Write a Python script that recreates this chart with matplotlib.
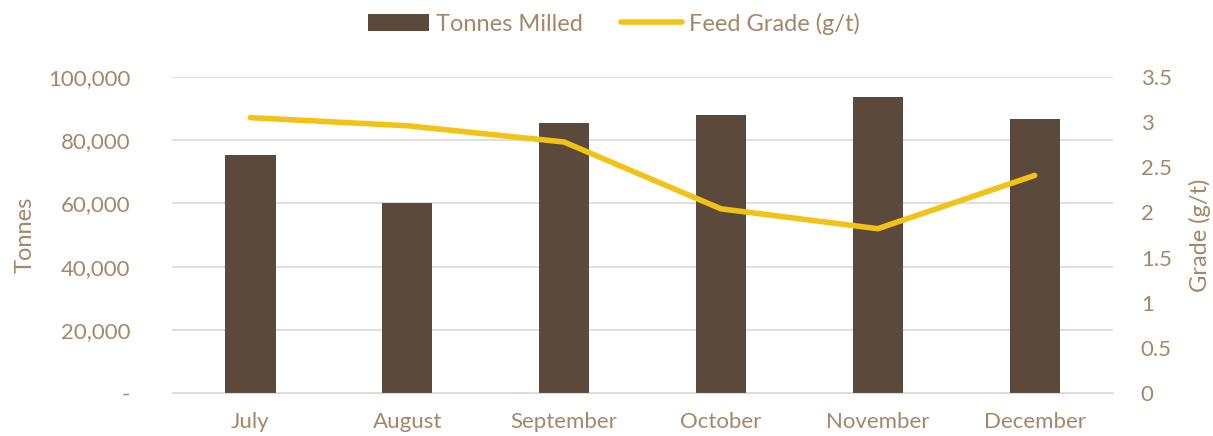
import matplotlib
matplotlib.use("Agg")
import matplotlib.pyplot as plt
from matplotlib.ticker import FuncFormatter

# данные
months = ["July", "August", "September", "October", "November", "December"]
tonnes = [75300, 60000, 85400, 88000, 93700, 86700]
grade = [3.05, 2.96, 2.78, 2.04, 1.82, 2.41]

bar_col = "#5B4A3C"
line_col = "#F2C314"
txt_col = "#A4876A"

plt.rcParams["font.family"] = ["Lato", "DejaVu Sans"]

fig = plt.figure(figsize=(12.13, 4.36), dpi=100)
ax = fig.add_axes([0.1418, 0.0986, 0.7758, 0.7248])
ax2 = ax.twinx()

x = range(len(months))
b = ax.bar(x, tonnes, width=0.32, color=bar_col, label="Tonnes Milled", zorder=2)
l, = ax2.plot(x, grade, color=line_col, linewidth=4, solid_capstyle="round",
              label="Feed Grade (g/t)", zorder=3)

ax.set_xlim(-0.5, len(months) - 0.5)
ax.set_ylim(0, 100000)
ax.set_yticks(range(0, 100001, 20000))
ax.yaxis.set_major_formatter(FuncFormatter(lambda v, p: "-" if v == 0 else f"{int(v):,}"))
ax2.set_ylim(0, 3.5)
ax2.set_yticks([0, 0.5, 1, 1.5, 2, 2.5, 3, 3.5])
ax2.set_yticklabels(["0", "0.5", "1", "1.5", "2", "2.5", "3", "3.5"])

ax.set_xticks(list(x))
ax.set_xticklabels(months)

ax.grid(axis="y", color="#D9D9D9", linewidth=1.2, zorder=0)
ax.set_axisbelow(True)

for a in (ax, ax2):
    for s in a.spines.values():
        s.set_visible(False)
    a.tick_params(length=0, labelsize=16, labelcolor=txt_col)
ax.tick_params(axis="y", pad=30)
ax.tick_params(axis="x", pad=14)
ax2.tick_params(axis="y", pad=20)
ax.spines["bottom"].set_visible(True)
ax.spines["bottom"].set_color("#D9D9D9")

ax.set_ylabel("Tonnes", fontsize=17, color=txt_col, labelpad=9)
ax2.set_ylabel("Grade (g/t)", fontsize=17, color=txt_col, labelpad=12)

fig.legend(handles=[b, l], loc="upper center", bbox_to_anchor=(0.506, 1.02), ncol=2,
           frameon=False, fontsize=17, labelcolor=txt_col, handlelength=2.6,
           handletextpad=0.3, columnspacing=1.6)

fig.savefig("out.png", dpi=100)
